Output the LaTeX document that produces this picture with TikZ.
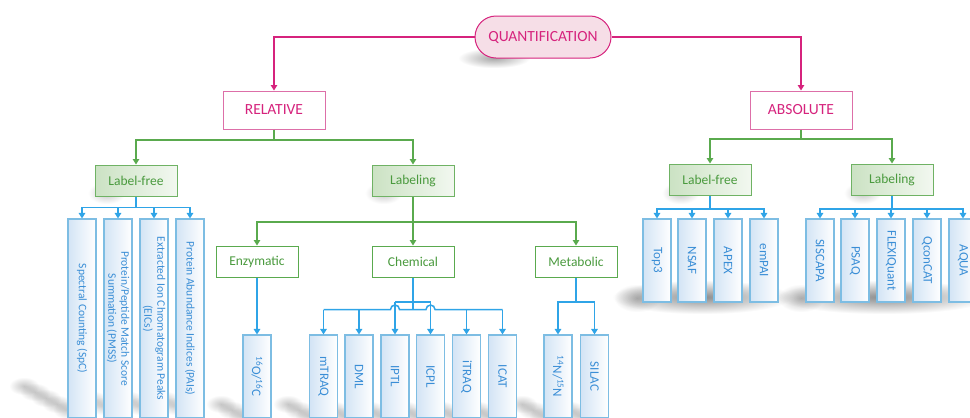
\documentclass[tikz,border=0pt]{standalone}
\usepackage{fontspec}
\setmainfont{Carlito}
\usetikzlibrary{arrows.meta,fadings}

\definecolor{qpink}{HTML}{D6237D}
\definecolor{qpinkborder}{HTML}{DD6FA8}
\definecolor{qpinkfill}{HTML}{F6DEE7}
\definecolor{qgreen}{HTML}{4A9A3E}
\definecolor{qgreenline}{HTML}{5AAA4E}
\definecolor{qgreenborder}{HTML}{6FB264}
\definecolor{qgreenfill}{HTML}{CBE2C3}
\definecolor{qblue}{HTML}{3A8ED6}
\definecolor{qblueline}{HTML}{2FA4E7}
\definecolor{qblueborder}{HTML}{7DBDE3}
\definecolor{qbluefill}{HTML}{D3E4F5}

% soft elliptical blob used for the cast shadows
\tikzfading[name=softblob, inner color=transparent!0, outer color=transparent!100]
\newcommand{\blob}[3][0.45]{%
  \fill[black, fill opacity=#1, path fading=softblob] #2 rectangle #3;}
% a slanted streak of blobs running up and to the left of a box foot at (#2,#3)
\newcommand{\streak}[4][0.22]{%
  \foreach \k in {0,...,#4}{%
    \pgfmathsetmacro{\cx}{#2-4-11*\k}\pgfmathsetmacro{\cy}{#3-4-6*\k}%
    \blob[#1]{(\cx-15,\cy-9)}{(\cx+15,\cy+9)}}}

\tikzset{
  tip/.style={-{Triangle[width=6.5bp,length=5.5bp]}},
  pinkline/.style={draw=qpink, line width=1.2bp},
  greenline/.style={draw=qgreenline, line width=1.2bp},
  blueline/.style={draw=qblueline, line width=1.5bp},
  pill/.style={draw=qpink, line width=1bp, fill=qpinkfill, rounded corners=21bp,
    minimum width=136bp, minimum height=42bp, inner sep=0pt,
    text=qpink, font=\fontsize{15.5bp}{17bp}\selectfont},
  pinkbox/.style={draw=qpinkborder, line width=1bp, fill=white,
    minimum width=102bp, minimum height=38bp, inner sep=0pt,
    text=qpink, font=\fontsize{15.5bp}{17bp}\selectfont},
  greenshade/.style={draw=qgreenborder, line width=1bp,
    left color=qgreenfill, right color=qgreenfill!25!white,
    minimum width=82bp, minimum height=31bp, inner sep=0pt,
    text=qgreen, font=\fontsize{13.5bp}{15bp}\selectfont},
  greenbox/.style={draw=qgreenline, line width=1bp, fill=white,
    minimum width=82bp, minimum height=31bp, inner sep=0pt,
    text=qgreen, font=\fontsize{13.5bp}{15bp}\selectfont},
  bluebar/.style={draw=qblueborder, line width=1.1bp,
    left color=qbluefill, right color=white, rotate=-90,
    minimum height=28bp, inner sep=0pt, align=center, text=qblue},
  tallbar/.style={bluebar, minimum width=199bp,
    font=\fontsize{11.5bp}{13bp}\selectfont},
  shortbar/.style={bluebar, minimum width=83bp,
    font=\fontsize{13bp}{15bp}\selectfont},
}

\begin{document}
\begin{tikzpicture}[x=1bp, y=-1bp]
\useasboundingbox (0,0) rectangle (970,417);
\begin{scope}
\clip (0,0) rectangle (970,417);

% ---------- shadows (drawn first, under the boxes) ----------
\blob[0.35]{(458,48)}{(530,68)}
\foreach \xl in {95,372,669,851}{
  \blob[0.22]{(\xl-7,182)}{(\xl+30,204)}}
\streak[0.22]{72}{414}{4}
\foreach \xl in {104,140,176}{\streak[0.2]{\xl+4}{410}{2}}
\foreach \xl in {243,310,345,381,417,453,489,544,581}{\streak[0.22]{\xl+4}{420}{2}}
\blob[0.45]{(612,280)}{(792,314)}
\blob[0.25]{(614,284)}{(660,312)}
\blob[0.45]{(778,280)}{(990,314)}
\blob[0.25]{(778,284)}{(824,312)}

% ---------- top levels ----------
\node[pill] (quant) at (543,37) {QUANTIFICATION};
\node[pinkbox] (rel) at (274,110) {RELATIVE};
\node[pinkbox] (abs) at (801,110) {ABSOLUTE};

\node[greenshade] (lfR)  at (136,180.5) {Label-free};
\node[greenshade] (labR) at (413,180.5) {Labeling};
\node[greenshade] (lfA)  at (710,179.5) {Label-free};
\node[greenshade] (labA) at (892,179.5) {Labeling};

\node[greenbox] (enz)  at (257,261.5) {Enzymatic};
\node[greenbox] (chem) at (413,261.5) {Chemical};
\node[greenbox] (meta) at (576,261.5) {Metabolic};

% ---------- relative, label-free methods ----------
\node[tallbar] (spc)  at (82,318.5)  {Spectral Counting (SpC)};
\node[tallbar] (pmss) at (118,318.5) {Protein/Peptide Match Score\\Summation (PMSS)};
\node[tallbar] (eic)  at (154,318.5) {Extracted Ion Chromatogram Peaks\\(EICs)};
\node[tallbar] (pai)  at (190,318.5) {Protein Abundance Indices (PAIs)};

% ---------- relative, labeling methods ----------
\node[shortbar] (oc)    at (257,376.5)   {\textsuperscript{16}O/\textsuperscript{16}C};
\node[shortbar] (mtraq) at (323.5,376.5) {mTRAQ};
\node[shortbar] (dml)   at (359,376.5)   {DML};
\node[shortbar] (iptl)  at (395,376.5)   {IPTL};
\node[shortbar] (icpl)  at (430.5,376.5) {ICPL};
\node[shortbar] (itraq) at (466.5,376.5) {iTRAQ};
\node[shortbar] (icat)  at (502.5,376.5) {ICAT};
\node[shortbar] (nn)    at (558,376.5)   {\textsuperscript{14}N/\textsuperscript{15}N};
\node[shortbar] (silac) at (594.5,376.5) {SILAC};

% ---------- absolute methods ----------
\node[shortbar] (top3)  at (657,260.5) {Top3};
\node[shortbar] (nsaf)  at (692,260.5) {NSAF};
\node[shortbar] (apex)  at (728,260.5) {APEX};
\node[shortbar] (empai) at (764,260.5) {emPAI};
\node[shortbar] (sis)   at (820,260.5) {SISCAPA};
\node[shortbar] (psaq)  at (855,260.5) {PSAQ};
\node[shortbar] (flex)  at (891,260.5) {FLEXIQuant};
\node[shortbar] (qcon)  at (927,260.5) {QconCAT};
\node[shortbar] (aqua)  at (963,260.5) {AQUA};

% ---------- connectors ----------
\draw[pinkline, tip] (quant.west) -| (rel.north);
\draw[pinkline, tip] (quant.east) -| (abs.north);

\coordinate (gR) at (274,140);
\coordinate (gA) at (801,139);
\draw[greenline] (rel.south) -- (gR);
\draw[greenline, tip] (gR) -| (lfR.north);
\draw[greenline, tip] (gR) -| (labR.north);
\draw[greenline] (abs.south) -- (gA);
\draw[greenline, tip] (gA) -| (lfA.north);
\draw[greenline, tip] (gA) -| (labA.north);

\coordinate (gL) at (413,222);
\draw[greenline] (labR.south) -- (gL);
\draw[greenline, tip] (gL) -| (enz.north);
\draw[greenline, tip] (gL) -- (chem.north);
\draw[greenline, tip] (gL) -| (meta.north);

\coordinate (bLF) at (136,207.5);
\draw[blueline] (lfR.south) -- (bLF);
\foreach \c in {spc,pmss,eic,pai}
  \draw[blueline, tip] (bLF) -| (\c.west);

\draw[blueline, tip] (enz.south) -- (oc.west);

% chemical: split bar plus a bus that hops over the two inner drops
\coordinate (cTop) at (413,302);
\coordinate (cBus) at (413,309.5);
\draw[blueline] (chem.south) -- (cBus);
\draw[blueline] (iptl.west |- cTop) -- (icpl.west |- cTop);
\draw[blueline, tip] (iptl.west |- cTop) -- (iptl.west);
\draw[blueline, tip] (icpl.west |- cTop) -- (icpl.west);
\draw[blueline] (mtraq.west |- cBus)
  -- ([xshift=-4.5bp]iptl.west |- cBus) arc[start angle=180, end angle=0, radius=4.5bp]
  -- ([xshift=-4.5bp]icpl.west |- cBus) arc[start angle=180, end angle=0, radius=4.5bp]
  -- (icat.west |- cBus);
\foreach \c in {mtraq,dml,itraq,icat}
  \draw[blueline, tip] (\c.west |- cBus) -- (\c.west);

\coordinate (mB) at (576,302);
\draw[blueline] (meta.south) -- (mB);
\draw[blueline, tip] (mB) -| (nn.west);
\draw[blueline, tip] (mB) -| (silac.west);

\coordinate (bA1) at (710,209);
\coordinate (bA2) at (892,209);
\draw[blueline] (lfA.south) -- (bA1);
\foreach \c in {top3,nsaf,apex,empai}
  \draw[blueline, tip] (bA1) -| (\c.west);
\draw[blueline] (labA.south) -- (bA2);
\foreach \c in {sis,psaq,flex,qcon,aqua}
  \draw[blueline, tip] (bA2) -| (\c.west);

\end{scope}
\end{tikzpicture}
\end{document}
